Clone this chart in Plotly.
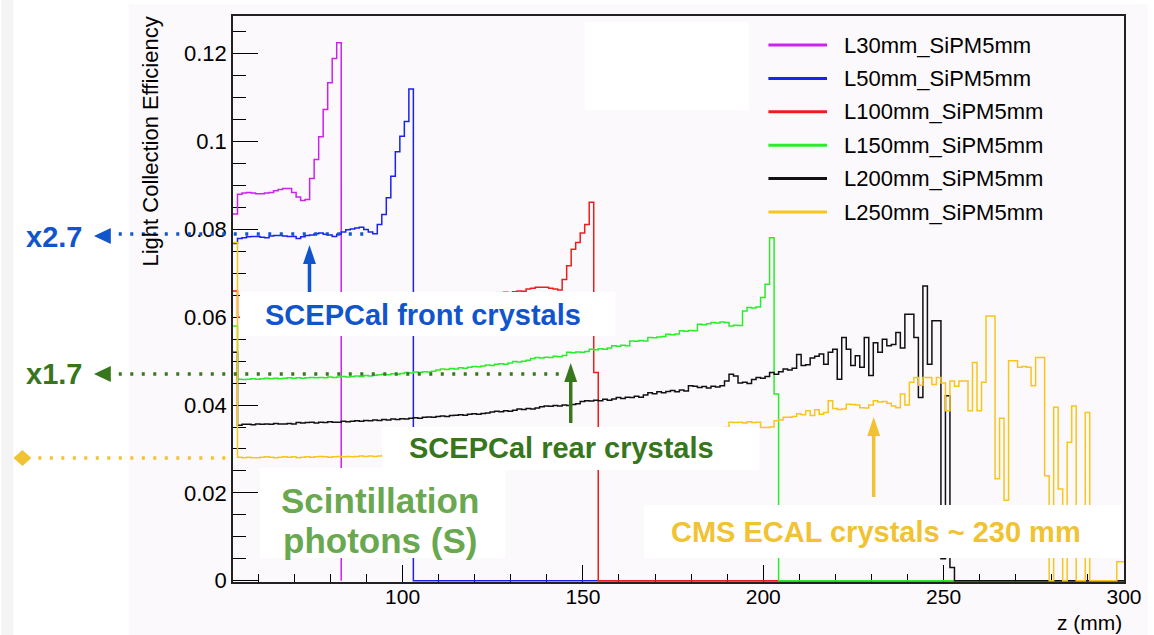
import plotly.graph_objects as go

# ---------------- data ----------------
Z_START = 53.0      # mm, start of all crystals
BIN_W = 1.25        # mm, histogram bin width
Z_END = 300.0       # mm, end of x axis

SERIES_NAMES = ["L30mm_SiPM5mm", "L50mm_SiPM5mm", "L100mm_SiPM5mm",
                "L150mm_SiPM5mm", "L200mm_SiPM5mm", "L250mm_SiPM5mm"]
SERIES_COLORS = ["#cc22ee", "#1a22ee", "#ee1c1c", "#2bec2b", "#111111", "#f8c51c"]

L30_EFF = [0.0835, 0.0880, 0.0883, 0.0884, 0.0883, 0.0881, 0.0881, 0.0883, 0.0884, 0.0888,
           0.0891, 0.0893, 0.0893, 0.0884, 0.0874, 0.0866, 0.0868, 0.0916, 0.0959, 0.1011,
           0.1073, 0.1134, 0.1189, 0.1225]

L50_EFF = [0.0768, 0.0779, 0.0781, 0.0783, 0.0784, 0.0784, 0.0782, 0.0781, 0.0785, 0.0786,
           0.0786, 0.0785, 0.0784, 0.0784, 0.0779, 0.0783, 0.0786, 0.0787, 0.0790, 0.0792,
           0.0789, 0.0787, 0.0784, 0.0789, 0.0794, 0.0799, 0.0801, 0.0803, 0.0805, 0.0800,
           0.0794, 0.0790, 0.0811, 0.0834, 0.0872, 0.0921, 0.0977, 0.1012, 0.1046, 0.1120]

L100_EFF = [0.0660,
            0.0600, 0.0602, 0.0600, 0.0603, 0.0601, 0.0604, 0.0602, 0.0605, 0.0603, 0.0606,
            0.0604, 0.0607, 0.0608, 0.0606, 0.0609, 0.0610, 0.0608, 0.0611, 0.0612, 0.0613,
            0.0611, 0.0614, 0.0615, 0.0616, 0.0614, 0.0617, 0.0618, 0.0619, 0.0621, 0.0620,
            0.0622, 0.0623, 0.0622, 0.0625, 0.0626, 0.0627, 0.0626, 0.0629, 0.0630, 0.0631,
            0.0632, 0.0634, 0.0633, 0.0636, 0.0637, 0.0639, 0.0640, 0.0641, 0.0643, 0.0644,
            0.0645, 0.0647, 0.0648, 0.0649, 0.0651, 0.0652,
            0.0654, 0.0656, 0.0655, 0.0657, 0.0656, 0.0658, 0.0660, 0.0659, 0.0664, 0.0666,
            0.0668, 0.0668, 0.0668, 0.0666, 0.0664, 0.0662, 0.0686, 0.0717, 0.0755, 0.0770,
            0.0792, 0.0811, 0.0862, 0.0474]

L150_EFF = [0.0580, 0.0459, 0.0458, 0.0459, 0.0460, 0.0459, 0.0460, 0.0461, 0.0460, 0.0461,
            0.0460, 0.0461, 0.0462, 0.0461, 0.0462, 0.0461, 0.0462, 0.0463, 0.0462, 0.0463,
            0.0462, 0.0464, 0.0463, 0.0464, 0.0465, 0.0464, 0.0465, 0.0466, 0.0465, 0.0467,
            0.0466, 0.0468, 0.0469, 0.0470, 0.0469, 0.0471, 0.0470, 0.0472, 0.0474, 0.0473,
            0.0475, 0.0474, 0.0476, 0.0475, 0.0477, 0.0480, 0.0482, 0.0481, 0.0483, 0.0482,
            0.0485, 0.0484, 0.0486, 0.0488, 0.0487, 0.0489, 0.0491, 0.0490, 0.0493, 0.0494,
            0.0493, 0.0496, 0.0499, 0.0498, 0.0500, 0.0502, 0.0506, 0.0508, 0.0507, 0.0509,
            0.0508, 0.0511, 0.0510, 0.0513, 0.0520, 0.0519, 0.0521, 0.0520, 0.0522, 0.0527,
            0.0526, 0.0528, 0.0527, 0.0530, 0.0535, 0.0534, 0.0536, 0.0535, 0.0546, 0.0545,
            0.0547, 0.0546, 0.0554, 0.0553, 0.0555, 0.0556, 0.0561, 0.0560, 0.0562, 0.0569,
            0.0568, 0.0570, 0.0569, 0.0584, 0.0583, 0.0585, 0.0588, 0.0587, 0.0589, 0.0588,
            0.0580, 0.0582, 0.0581, 0.0614, 0.0622, 0.0621, 0.0623, 0.0645, 0.0675, 0.0781,
            0.0425]

L200_EFF = [0.0520, 0.0354, 0.0356, 0.0356, 0.0355, 0.0357, 0.0356, 0.0357, 0.0356, 0.0358,
            0.0357, 0.0357, 0.0358, 0.0357, 0.0360, 0.0359, 0.0360, 0.0361, 0.0359, 0.0361,
            0.0360, 0.0362, 0.0361, 0.0361, 0.0363, 0.0362, 0.0363, 0.0364, 0.0363, 0.0365,
            0.0364, 0.0366, 0.0365, 0.0367, 0.0366, 0.0368, 0.0367, 0.0369, 0.0368, 0.0370,
            0.0371, 0.0370, 0.0372, 0.0373, 0.0372, 0.0374, 0.0375, 0.0374, 0.0376, 0.0377,
            0.0378, 0.0377, 0.0379, 0.0380, 0.0379, 0.0381, 0.0382, 0.0384, 0.0386, 0.0385,
            0.0387, 0.0386, 0.0388, 0.0391, 0.0390, 0.0392, 0.0391, 0.0393, 0.0396, 0.0398,
            0.0397, 0.0399, 0.0398, 0.0400, 0.0399, 0.0401, 0.0403, 0.0408, 0.0410, 0.0409,
            0.0411, 0.0410, 0.0413, 0.0411, 0.0414, 0.0417, 0.0415, 0.0418, 0.0417, 0.0420,
            0.0418, 0.0423, 0.0428, 0.0426, 0.0430, 0.0428, 0.0431, 0.0433, 0.0430, 0.0434,
            0.0432, 0.0444, 0.0443, 0.0440, 0.0442, 0.0439, 0.0443, 0.0441, 0.0444, 0.0455,
            0.0470, 0.0466, 0.0450, 0.0452, 0.0449, 0.0458, 0.0463, 0.0461, 0.0465, 0.0474,
            0.0470, 0.0476, 0.0482, 0.0480, 0.0484, 0.0515, 0.0490, 0.0492, 0.0507, 0.0511,
            0.0516, 0.0493, 0.0520, 0.0527, 0.0459, 0.0554, 0.0527, 0.0490, 0.0512, 0.0486,
            0.0554, 0.0467, 0.0542, 0.0520, 0.0550, 0.0535, 0.0538, 0.0565, 0.0530, 0.0607,
            0.0607, 0.0554, 0.0417, 0.0671, 0.0493, 0.0592, 0.0592, 0.0050, 0.0421, 0.0030]

L250_EFF = [0.0770,
            0.0281, 0.0280, 0.0281, 0.0280, 0.0280, 0.0281, 0.0282, 0.0281, 0.0280, 0.0281,
            0.0282, 0.0281, 0.0282, 0.0280, 0.0281, 0.0282, 0.0281, 0.0282, 0.0283, 0.0282,
            0.0281, 0.0282, 0.0283, 0.0282, 0.0283, 0.0282, 0.0283, 0.0284, 0.0283, 0.0284,
            0.0283, 0.0284,
            0.0285, 0.0284, 0.0286, 0.0285, 0.0287, 0.0286, 0.0288, 0.0287, 0.0289, 0.0290,
            0.0289, 0.0291, 0.0292, 0.0291, 0.0293, 0.0294, 0.0293, 0.0295, 0.0296, 0.0295,
            0.0297, 0.0298, 0.0299, 0.0298, 0.0300, 0.0301, 0.0302, 0.0301, 0.0303, 0.0304,
            0.0305, 0.0306, 0.0305, 0.0307, 0.0308, 0.0309, 0.0310, 0.0309, 0.0311, 0.0312,
            0.0313, 0.0314, 0.0313, 0.0315, 0.0316, 0.0317, 0.0318, 0.0319, 0.0320, 0.0319,
            0.0321, 0.0322, 0.0323, 0.0324, 0.0325, 0.0326, 0.0327, 0.0326, 0.0328, 0.0329,
            0.0330, 0.0331, 0.0332, 0.0333, 0.0334, 0.0335, 0.0336, 0.0337, 0.0338, 0.0339,
            0.0340, 0.0342, 0.0343, 0.0344, 0.0346, 0.0347, 0.0349,
            0.0361, 0.0360, 0.0361, 0.0359, 0.0362, 0.0360, 0.0361, 0.0349, 0.0349, 0.0350,
            0.0364, 0.0366, 0.0372, 0.0372, 0.0374, 0.0380, 0.0378, 0.0387, 0.0376, 0.0389,
            0.0379, 0.0383, 0.0410, 0.0392, 0.0390, 0.0391, 0.0402, 0.0401, 0.0400, 0.0394,
            0.0393, 0.0400, 0.0410, 0.0407, 0.0408, 0.0404, 0.0398, 0.0394, 0.0425, 0.0400,
            0.0452, 0.0463, 0.0445, 0.0463, 0.0463, 0.0447, 0.0463, 0.0450, 0.0387, 0.0455,
            0.0443, 0.0455, 0.0455, 0.0387, 0.0497, 0.0387, 0.0452, 0.0603, 0.0603, 0.0232,
            0.0370, 0.0183, 0.0501, 0.0501, 0.0486, 0.0488, 0.0486, 0.0444, 0.0508, 0.0508,
            0.0239, 0.0000, 0.0395, 0.0209, 0.0000, 0.0315, 0.0398, 0.0000, 0.0000, 0.0383,
            0.0000, 0.0000, 0.0000, 0.0000, 0.0000, 0.0000, 0.0043, 0.0043]

SERIES_VALUES = [L30_EFF, L50_EFF, L100_EFF, L150_EFF, L200_EFF, L250_EFF]
# empty (zero) bins continue to the end of the axis for all but the shortest crystal
SERIES_ZERO_TAIL = [False, True, True, True, True, True]

Y_TICKS = [0, 0.02, 0.04, 0.06, 0.08, 0.1, 0.12]
X_TICKS = [100, 150, 200, 250, 300]

# ---------------- layout geometry ----------------
W, H = 1154, 635
ML, MR, MT, MB = 233, 24, 16, 53
PW, PH = W - ML - MR, H - MT - MB
FONT = "Liberation Sans, Arial, Helvetica, sans-serif"

BLUE_T = "#1155cc"
DGREEN_T = "#38761d"
LGREEN_T = "#6aa84f"
GOLD_T = "#f1c232"


def px(x):
    return (x - ML) / PW


def py(y):
    return (H - MB - y) / PH


n_all = int((Z_END - Z_START) / BIN_W) + 1

fig = go.Figure()
for name, color, vals, tail in zip(SERIES_NAMES, SERIES_COLORS, SERIES_VALUES, SERIES_ZERO_TAIL):
    v = list(vals)
    if tail:
        v = v + [0.0] * (n_all - len(v))
    xs = [Z_START + i * BIN_W for i in range(len(v) + 1)]
    ys = v + [0.0]
    fig.add_trace(go.Scatter(x=xs, y=ys, mode="lines", name=name,
                             line=dict(color=color, width=1.5, shape="hv"),
                             showlegend=False, hoverinfo="skip"))

shapes = []


def rect(x0, y0, x1, y1, color, layer):
    shapes.append(dict(type="rect", xref="paper", yref="paper",
                       x0=px(x0), x1=px(x1), y0=py(y1), y1=py(y0),
                       fillcolor=color, line=dict(width=0), layer=layer))


def line(x0, y0, x1, y1, color, width, dash="solid", layer="above"):
    shapes.append(dict(type="line", xref="paper", yref="paper",
                       x0=px(x0), x1=px(x1), y0=py(y0), y1=py(y1),
                       line=dict(color=color, width=width, dash=dash), layer=layer))


def poly(points, color):
    path = "M " + " L ".join(f"{px(a):.5f},{py(b):.5f}" for a, b in points) + " Z"
    shapes.append(dict(type="path", xref="paper", yref="paper", path=path,
                       fillcolor=color, line=dict(color=color, width=0), layer="above"))


# background pieces
rect(0, 0, 12, H, "#f4f4f4", "below")
rect(128, 4, W, H, "#fcf9fc", "below")
rect(587, 22, 752, 110, "#ffffff", "below")

# white text boxes
rect(240, 292, 618, 336, "#ffffff", "above")
rect(383, 427, 763, 470, "#ffffff", "above")
rect(260, 468, 507, 558, "#ffffff", "above")
rect(647, 505, 1128, 558, "#ffffff", "above")

# dotted guide lines
DOT = "3px,8.5px"
line(118, 234, 366, 234, BLUE_T, 3.5, DOT)
line(118, 374, 566, 374, DGREEN_T, 3.5, DOT)
line(37, 458, 231, 458, GOLD_T, 3.5, DOT)
poly([(93, 236), (110, 228), (110, 244)], BLUE_T)
poly([(93, 374), (110, 366), (110, 382)], DGREEN_T)
poly([(12, 458), (21, 450), (30, 458), (21, 466)], GOLD_T)

# vertical arrows
line(310, 292, 310, 262, BLUE_T, 3.5)
poly([(310, 245), (303.5, 264), (316.5, 264)], BLUE_T)
line(573, 423, 573, 380, DGREEN_T, 3.5)
poly([(573, 363), (566.5, 382), (579.5, 382)], DGREEN_T)
line(878, 497, 878, 434, GOLD_T, 3.5)
poly([(878, 417), (871.5, 436), (884.5, 436)], GOLD_T)

annotations = []


def text(x, y, s, size, color, bold=False, xanchor="center", angle=0):
    annotations.append(dict(xref="paper", yref="paper", x=px(x), y=py(y),
                            text=f"<b>{s}</b>" if bold else s, showarrow=False,
                            xanchor=xanchor, yanchor="middle", textangle=angle,
                            font=dict(family=FONT, size=size, color=color)))


# manual legend
for i, (name, color) in enumerate(zip(SERIES_NAMES, SERIES_COLORS)):
    yy = 45 + 33.4 * i
    line(772, yy, 831, yy, color, 3)
    text(846, yy, name, 22, "#000000", xanchor="left")

# axis titles
text(149, 142, "Light Collection Efficiency", 22, "#000000", angle=-90)
text(1130, 622, "z (mm)", 21, "#000000", xanchor="right")

# slide annotations
text(53, 237, "x2.7", 29, BLUE_T, bold=True)
text(53, 374, "x1.7", 29, DGREEN_T, bold=True)
text(424, 315, "SCEPCal front crystals", 29, BLUE_T, bold=True)
text(564, 448, "SCEPCal rear crystals", 29, DGREEN_T, bold=True)
text(381, 500, "Scintillation", 35, LGREEN_T, bold=True)
text(381, 540, "photons (S)", 35, LGREEN_T, bold=True)
text(880, 532, "CMS ECAL crystals ~ 230 mm", 29, GOLD_T, bold=True)

axis_common = dict(showgrid=False, zeroline=False, showline=True, linecolor="#222222",
                   linewidth=1.5, mirror=True, ticks="inside", tickcolor="#000000",
                   tickwidth=1.3, layer="below traces")

fig.update_layout(
    width=W, height=H,
    margin=dict(l=ML, r=MR, t=MT, b=MB, pad=0),
    paper_bgcolor="#ffffff",
    plot_bgcolor="#fcf9fc",
    showlegend=False,
    shapes=shapes,
    annotations=annotations,
    xaxis=dict(range=[Z_START, Z_END], tickmode="array", tickvals=X_TICKS,
               ticklen=17, ticklabelstandoff=-5,
               tickfont=dict(family=FONT, size=21, color="#000000"),
               minor=dict(ticks="inside", dtick=10, tick0=0, ticklen=8,
                          tickcolor="#000000", tickwidth=1.3),
               **axis_common),
    yaxis=dict(range=[-0.0003, 0.1286], tickmode="array", tickvals=Y_TICKS,
               ticktext=[f"{t:g}" for t in Y_TICKS],
               ticklen=25, tickfont=dict(family=FONT, size=22, color="#000000"),
               minor=dict(ticks="inside", dtick=0.005, tick0=0, ticklen=13,
                          tickcolor="#000000", tickwidth=1.3),
               **axis_common),
)

fig.write_html("out.html")
